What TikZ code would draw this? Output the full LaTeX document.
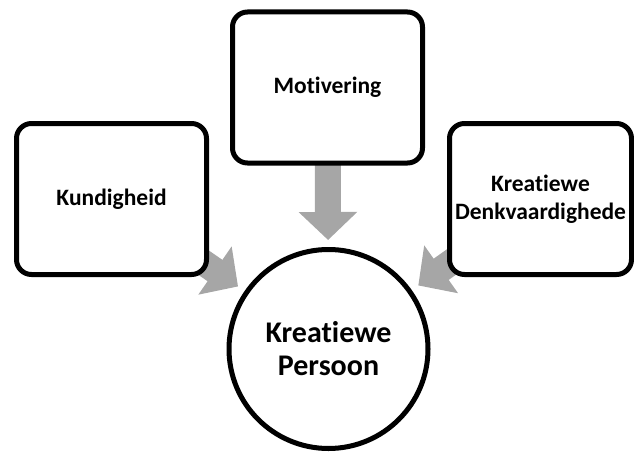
\documentclass[tikz,border=0pt]{standalone}
\usepackage{fontspec}
\setmainfont{Carlito}[Ligatures=NoCommon]
\usepackage{tikz}
\usetikzlibrary{arrows.meta,backgrounds}
\definecolor{flowgray}{RGB}{166,166,166}
\tikzstyle{box} = [draw, line width=5pt, rounded corners=15pt, fill=white, minimum width=190pt, minimum height=151pt, align=center, font=\fontsize{23.5}{28}\selectfont\bfseries]
\tikzstyle{flow} = [draw=flowgray, line width=26pt, -{Triangle[length=28pt, width=57pt]}]

\begin{document}
\begin{tikzpicture}[x=1pt, y=1pt, node distance=150pt]
	\useasboundingbox (0,0) rectangle (634,451);
	\node (pers) [draw, circle, line width=5pt, fill=white, minimum size=199pt, align=center, font=\fontsize{30}{33}\selectfont\bfseries] at (328.5,102) {Kreatiewe\\Persoon};
	\node (kund) [box, above of=pers, xshift=-217pt] {Kundigheid};
	\node (denk) [box, above of=pers, xshift=212pt, minimum width=182pt] {Kreatiewe\\Denkvaardighede};
	\node (mot) [box, above of=pers, yshift=111.5pt, xshift=-1pt] {Motivering};

	\begin{scope}[on background layer]
		\draw [flow, shorten >=110pt] (kund.center) -- (pers.center);
		\draw [flow, shorten >=109pt] (mot.center) -- (pers.center);
		\draw [flow, shorten >=110pt] (denk.center) -- (pers.center);
	\end{scope}
\end{tikzpicture}
\end{document}
